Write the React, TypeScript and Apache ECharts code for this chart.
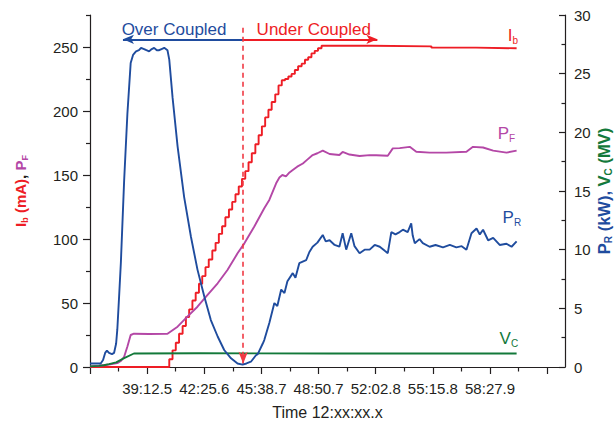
import React, { useEffect, useRef } from 'react';
import * as echarts from 'echarts';

// x values: seconds after 12:36:00.0
const X_MAX = 1600;
const X_TICK = 96.25;
const xTickLabels = ['39:12.5', '42:25.6', '45:38.7', '48:50.7', '52:02.8', '55:15.8', '58:27.9'];

// I_b (mA) – stepped current ramp [time s, value]
const ibData: [number, number][] = [
  [0, 0], [267, 6], [278, 13], [289, 19], [300, 26], [312, 32], [323, 39], [334, 45], [345, 52],
  [356, 58], [367, 65], [378, 71], [389, 78], [400, 84], [412, 91], [423, 97], [434, 104],
  [445, 110], [456, 117], [468, 123], [479, 129], [490, 135], [501, 141], [512, 147], [523, 153],
  [534, 160], [545, 167], [557, 174], [568, 181], [579, 188], [590, 195], [601, 201], [612, 207],
  [624, 213], [635, 220], [646, 224], [657, 225], [668, 227], [679, 229], [690, 232], [701, 235],
  [713, 237], [724, 240], [735, 242], [746, 245], [757, 247], [768, 249], [780, 251],
  [950, 250.5], [1150, 249.5], [1300, 249], [1437, 248.5],
];

// P_F (kW, left axis)
const pfData: [number, number][] = [
  [0, 0.5], [30, 1], [64, 2], [92, 3], [105, 5], [115, 8], [126, 16], [137, 25], [148, 26],
  [199, 25.8], [261, 26], [295, 31.5], [328, 39.3], [362, 47.1], [396, 56.3], [430, 65.4],
  [463, 75.8], [497, 88.8], [520, 96.6], [553, 109.6], [587, 124], [604, 130.5], [627, 143.5],
  [638, 148], [648, 150], [660, 149], [672, 152], [683, 153.9], [698, 156.5], [717, 159],
  [732, 162], [750, 165.6], [766, 167], [784, 169], [807, 166.4], [840, 165.6], [851, 168],
  [874, 166], [908, 164.8], [942, 165.5], [964, 165.4], [1003, 165], [1020, 170.8], [1043, 171],
  [1077, 172], [1099, 168.2], [1144, 167.5], [1200, 167.5], [1268, 168.2], [1290, 172],
  [1324, 171.5], [1358, 169], [1403, 167.5], [1437, 169],
];

// P_R (kW, right axis)
const prData: [number, number][] = [
  [0, 0.3], [36, 0.3], [44, 0.6], [51, 1.2], [57, 1.4], [64, 1.2], [74, 1.1], [81, 1.2], [88, 2.0],
  [92, 3.2], [98, 6.0], [104, 8.9], [115, 15.9], [126, 21.6], [137, 25.9], [145, 26.6], [155, 26.9],
  [165, 27.0], [172, 27.2], [182, 27.1], [190, 27.0], [199, 26.9], [208, 27.1], [216, 27.2],
  [225, 27.0], [233, 27.0], [241, 27.1], [250, 27.2], [261, 27.0], [267, 26.2], [278, 23.0],
  [295, 18.8], [317, 14.5], [340, 11.1], [362, 8.3], [385, 6.0], [407, 4.0], [430, 2.6],
  [452, 1.45], [475, 0.74], [497, 0.3], [514, 0.2], [527, 0.3], [542, 0.45], [559, 1.0],
  [565, 1.1], [582, 2.0], [587, 2.3], [604, 3.75], [621, 5.45], [631, 5.2], [644, 6.6],
  [655, 6.3], [665, 7.3], [683, 8.0], [692, 7.6], [705, 8.85], [728, 9.1], [739, 9.8],
  [750, 10.25], [766, 10.6], [784, 11.25], [794, 10.7], [807, 10.8], [824, 10.4], [840, 10.25],
  [851, 11.4], [863, 10.0], [880, 11.4], [891, 10.3], [908, 9.7], [925, 10.0], [942, 10.0],
  [959, 10.4], [976, 10.25], [993, 9.9], [1003, 9.7], [1015, 11.5], [1029, 11.3], [1043, 11.5],
  [1054, 11.7], [1070, 11.5], [1082, 12.25], [1087, 11.2], [1094, 10.55], [1110, 10.9],
  [1121, 10.55], [1144, 10.25], [1164, 10.4], [1189, 10.2], [1212, 10.4], [1234, 10.2],
  [1252, 10.3], [1268, 10.0], [1285, 11.4], [1302, 11.8], [1313, 11.3], [1324, 11.7],
  [1341, 10.8], [1358, 11.0], [1380, 10.4], [1403, 10.5], [1420, 10.25], [1437, 10.7],
];

// V_C (MV, right axis)
const vcData: [number, number][] = [
  [0, 0.05], [30, 0.1], [47, 0.15], [64, 0.25], [88, 0.4], [115, 0.75], [148, 1.15],
  [368, 1.17], [807, 1.15], [1437, 1.15],
];

// annotation positions (data units)
const switchTime = 516;
const arrowLevel = 256;
const overArrowEnd = 111;
const underArrowEnd = 968;

const RED = '#EE1D25';
const MAGENTA = '#B447A6';
const BLUE = '#1F4C9E';
const GREEN = '#13793A';
const INK = '#231F20';
const FONT = '"Liberation Sans", Arial, Helvetica, sans-serif';

const range = (start: number, end: number, step: number) => {
  const out: number[] = [];
  for (let v = start; v <= end + 1e-9; v += step) out.push(v);
  return out;
};

function endLabel(main: string, sub: string, color: string, point: [number, number], offset: [number, number]) {
  return {
    coord: point,
    symbol: 'circle',
    symbolSize: 1,
    itemStyle: { color: 'rgba(0,0,0,0)' },
    label: {
      show: true,
      position: 'insideBottomRight',
      distance: 0,
      offset,
      formatter: `{m|${main}}{s|${sub}}`,
      rich: {
        m: { fontSize: 17, color, lineHeight: 20, fontFamily: FONT },
        s: { fontSize: 10, color, lineHeight: 6, verticalAlign: 'bottom', fontFamily: FONT },
      },
    },
  };
}

export default function App() {
  const ref = useRef<HTMLDivElement>(null);

  useEffect(() => {
    if (!ref.current) return;
    const chart = echarts.init(ref.current, undefined, { renderer: 'svg' });

    const evenTicks = range(0, 1540, X_TICK * 2);
    const oddTicks = range(X_TICK, 1540, X_TICK * 2);
    const labelTicks = range(X_TICK * 2, X_TICK * 14, X_TICK * 2);

    const axisLineStyle = { color: INK, width: 1.2 };
    const nameBold = (color: string, size: number) => ({ color, fontSize: size, fontWeight: 'bold', lineHeight: size + 3, fontFamily: FONT });
    const subBold = (color: string, size: number, lh: number) => ({ color, fontSize: size, fontWeight: 'bold', lineHeight: lh, verticalAlign: 'bottom', fontFamily: FONT });

    const option: any = {
      animation: false,
      grid: { left: 90, right: 49, top: 15, bottom: 55, containLabel: false, outerBoundsMode: 'none' },
      xAxis: [
        {
          type: 'value', position: 'bottom', min: 0, max: X_MAX,
          axisLine: { show: true, lineStyle: axisLineStyle },
          axisTick: { show: true, customValues: oddTicks, length: 4.5, lineStyle: axisLineStyle },
          axisLabel: {
            customValues: labelTicks, fontSize: 15, color: INK, margin: 14, fontFamily: FONT,
            formatter: (v: number) => xTickLabels[Math.round(v / (X_TICK * 2)) - 1] ?? '',
          },
          splitLine: { show: false },
          name: 'Time 12:xx:xx.x', nameLocation: 'middle', nameGap: 37,
          nameTextStyle: { fontSize: 16, color: INK, fontFamily: FONT },
        },
        {
          type: 'value', position: 'bottom', min: 0, max: X_MAX,
          axisLine: { show: false },
          axisTick: { show: true, customValues: evenTicks, length: 7, lineStyle: axisLineStyle },
          axisLabel: { show: false },
          splitLine: { show: false },
        },
      ],
      yAxis: [
        {
          type: 'value', position: 'left', min: 0, max: 275,
          axisLine: { show: true, lineStyle: axisLineStyle },
          axisTick: { show: true, customValues: range(25, 275, 50), length: 4, lineStyle: axisLineStyle },
          axisLabel: { customValues: range(0, 250, 50), fontSize: 15, color: INK, margin: 12, fontFamily: FONT },
          splitLine: { show: false },
          name: '{r|I}{rs|b}{r| (mA)}{k|, }{m|P}{ms|F}',
          nameLocation: 'middle', nameGap: 61,
          nameTextStyle: {
            fontFamily: FONT,
            rich: {
              r: nameBold(RED, 15), rs: subBold(RED, 9, 4), k: nameBold(INK, 15),
              m: nameBold(MAGENTA, 15), ms: subBold(MAGENTA, 9, 4),
            },
          },
        },
        {
          type: 'value', position: 'left', min: 0, max: 275,
          axisLine: { show: false },
          axisTick: { show: true, customValues: range(0, 250, 50), length: 7, lineStyle: axisLineStyle },
          axisLabel: { show: false },
          splitLine: { show: false },
        },
        {
          type: 'value', position: 'right', min: 0, max: 30, interval: 5,
          axisLine: { show: true, lineStyle: axisLineStyle },
          axisTick: { show: true, inside: true, length: 6, lineStyle: axisLineStyle },
          minorTick: { show: true, splitNumber: 2, length: 3.5, lineStyle: axisLineStyle },
          axisLabel: { fontSize: 15, color: INK, margin: 9, fontFamily: FONT },
          splitLine: { show: false },
          minorSplitLine: { show: false },
          name: '{b|P}{bs|R}{b| (kW), }{g|V}{gs|C}{g| (MV)}',
          nameLocation: 'middle', nameGap: 29, nameMoveOverlap: false,
          nameTextStyle: {
            fontFamily: FONT,
            rich: {
              b: nameBold(BLUE, 16.5), bs: subBold(BLUE, 10, 8),
              g: nameBold(GREEN, 16.5), gs: subBold(GREEN, 10, 8),
            },
          },
        },
      ],
      series: [
        {
          name: 'Ib', type: 'line', xAxisIndex: 0, yAxisIndex: 0, data: ibData, step: 'end',
          symbol: 'none', color: RED, lineStyle: { color: RED, width: 1.9 }, z: 2,
          markLine: {
            silent: true, animation: false, precision: 4,
            emphasis: { disabled: true },
            data: [
              [
                {
                  coord: [overArrowEnd, arrowLevel], symbol: 'arrow', symbolSize: [7, 11],
                  lineStyle: { color: BLUE, width: 1.8, type: 'solid' },
                  label: {
                    show: true, formatter: 'Over Coupled', position: 'insideMiddleTop', distance: 1,
                    color: BLUE, fontSize: 17, fontFamily: FONT, padding: [0, 18, 0, 0],
                  },
                },
                { coord: [switchTime, arrowLevel], symbol: 'none' },
              ],
              [
                {
                  coord: [switchTime, arrowLevel], symbol: 'none',
                  lineStyle: { color: RED, width: 1.8, type: 'solid' },
                  label: {
                    show: true, formatter: 'Under Coupled', position: 'insideMiddleTop', distance: 1,
                    color: RED, fontSize: 17, fontFamily: FONT, padding: [0, 0, 0, 7],
                  },
                },
                { coord: [underArrowEnd, arrowLevel], symbol: 'arrow', symbolSize: [7, 11] },
              ],
              [
                {
                  coord: [switchTime, 265], symbol: 'none',
                  lineStyle: { color: '#F03A44', width: 1.6, type: [5, 4] },
                  label: { show: false },
                },
                { coord: [switchTime, 2.5], symbol: 'arrow', symbolSize: [7, 12] },
              ],
            ],
          },
          markPoint: {
            silent: true, animation: false,
            data: [endLabel('I', 'b', RED, ibData[ibData.length - 1], [1, -4])],
          },
        },
        {
          name: 'PF', type: 'line', xAxisIndex: 0, yAxisIndex: 0, data: pfData,
          symbol: 'none', color: MAGENTA, lineStyle: { color: MAGENTA, width: 1.9 }, z: 3,
          markPoint: {
            silent: true, animation: false,
            data: [endLabel('P', 'F', MAGENTA, pfData[pfData.length - 1], [-2, -8])],
          },
        },
        {
          name: 'VC', type: 'line', xAxisIndex: 0, yAxisIndex: 2, data: vcData,
          symbol: 'none', color: GREEN, lineStyle: { color: GREEN, width: 1.9 }, z: 4,
          markPoint: {
            silent: true, animation: false,
            data: [endLabel('V', 'C', GREEN, vcData[vcData.length - 1], [1, -6])],
          },
        },
        {
          name: 'PR', type: 'line', xAxisIndex: 0, yAxisIndex: 2, data: prData,
          symbol: 'none', color: BLUE, lineStyle: { color: BLUE, width: 1.9 }, z: 5,
          markPoint: {
            silent: true, animation: false,
            data: [endLabel('P', 'R', BLUE, prData[prData.length - 1], [4, -14])],
          },
        },
      ],
    };

    chart.setOption(option);
    return () => chart.dispose();
  }, []);

  return (
    <div
      ref={ref}
      style={{ position: 'absolute', left: 0, top: 0, width: 614, height: 422, background: '#fff' }}
    />
  );
}
